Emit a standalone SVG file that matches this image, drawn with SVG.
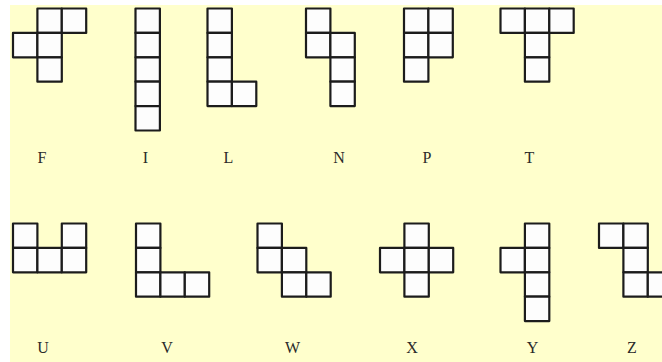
<svg xmlns="http://www.w3.org/2000/svg" width="662" height="362" viewBox="0 0 662 362">
<style>
.c{fill:#fdfdfd;stroke:#1c1c1c;stroke-width:2.2;stroke-linejoin:round}
.lb{font-family:"Liberation Serif","Times New Roman",serif;font-size:16px;fill:#2a2a2a;text-anchor:middle}
</style>
<defs>
<rect id="s" class="c" width="24.4" height="24.4"/>
</defs>
<rect x="0" y="0" width="662" height="362" fill="#ffffff"/>
<rect x="10" y="5" width="652" height="357" fill="#ffffcc"/>
<g id="F" transform="translate(13,8.5)">
<use href="#s" x="24.4" y="0"/><use href="#s" x="48.8" y="0"/><use href="#s" x="0" y="24.4"/><use href="#s" x="24.4" y="24.4"/><use href="#s" x="24.4" y="48.8"/>
<text class="lb" x="29" y="154">F</text>
</g>
<g id="I" transform="translate(135.5,8.5)">
<use href="#s" x="0" y="0"/><use href="#s" x="0" y="24.4"/><use href="#s" x="0" y="48.8"/><use href="#s" x="0" y="73.2"/><use href="#s" x="0" y="97.6"/>
<text class="lb" x="10" y="154">I</text>
</g>
<g id="L" transform="translate(207.5,8.5)">
<use href="#s" x="0" y="0"/><use href="#s" x="0" y="24.4"/><use href="#s" x="0" y="48.8"/><use href="#s" x="0" y="73.2"/><use href="#s" x="24.4" y="73.2"/>
<text class="lb" x="21" y="154">L</text>
</g>
<g id="N" transform="translate(306,8.5)">
<use href="#s" x="0" y="0"/><use href="#s" x="0" y="24.4"/><use href="#s" x="24.4" y="24.4"/><use href="#s" x="24.4" y="48.8"/><use href="#s" x="24.4" y="73.2"/>
<text class="lb" x="33" y="154">N</text>
</g>
<g id="P" transform="translate(404,8.5)">
<use href="#s" x="0" y="0"/><use href="#s" x="24.4" y="0"/><use href="#s" x="0" y="24.4"/><use href="#s" x="24.4" y="24.4"/><use href="#s" x="0" y="48.8"/>
<text class="lb" x="23" y="154">P</text>
</g>
<g id="T" transform="translate(500.5,8.5)">
<use href="#s" x="0" y="0"/><use href="#s" x="24.4" y="0"/><use href="#s" x="48.8" y="0"/><use href="#s" x="24.4" y="24.4"/><use href="#s" x="24.4" y="48.8"/>
<text class="lb" x="29" y="154">T</text>
</g>
<g id="U" transform="translate(13,223.5)">
<use href="#s" x="0" y="0"/><use href="#s" x="48.8" y="0"/><use href="#s" x="0" y="24.4"/><use href="#s" x="24.4" y="24.4"/><use href="#s" x="48.8" y="24.4"/>
<text class="lb" x="30" y="129.5">U</text>
</g>
<g id="V" transform="translate(136,223.5)">
<use href="#s" x="0" y="0"/><use href="#s" x="0" y="24.4"/><use href="#s" x="0" y="48.8"/><use href="#s" x="24.4" y="48.8"/><use href="#s" x="48.8" y="48.8"/>
<text class="lb" x="31" y="129.5">V</text>
</g>
<g id="W" transform="translate(257.5,223.5)">
<use href="#s" x="0" y="0"/><use href="#s" x="0" y="24.4"/><use href="#s" x="24.4" y="24.4"/><use href="#s" x="24.4" y="48.8"/><use href="#s" x="48.8" y="48.8"/>
<text class="lb" x="35" y="129.5">W</text>
</g>
<g id="X" transform="translate(380,223.5)">
<use href="#s" x="24.4" y="0"/><use href="#s" x="0" y="24.4"/><use href="#s" x="24.4" y="24.4"/><use href="#s" x="48.8" y="24.4"/><use href="#s" x="24.4" y="48.8"/>
<text class="lb" x="32" y="129.5">X</text>
</g>
<g id="Y" transform="translate(500.5,223.5)">
<use href="#s" x="24.4" y="0"/><use href="#s" x="0" y="24.4"/><use href="#s" x="24.4" y="24.4"/><use href="#s" x="24.4" y="48.8"/><use href="#s" x="24.4" y="73.2"/>
<text class="lb" x="32" y="129.5">Y</text>
</g>
<g id="Z" transform="translate(599,223.5)">
<use href="#s" x="0" y="0"/><use href="#s" x="24.4" y="0"/><use href="#s" x="24.4" y="24.4"/><use href="#s" x="24.4" y="48.8"/><use href="#s" x="48.8" y="48.8"/>
<text class="lb" x="33" y="129.5">Z</text>
</g>
<g id="connectors"/>
</svg>
